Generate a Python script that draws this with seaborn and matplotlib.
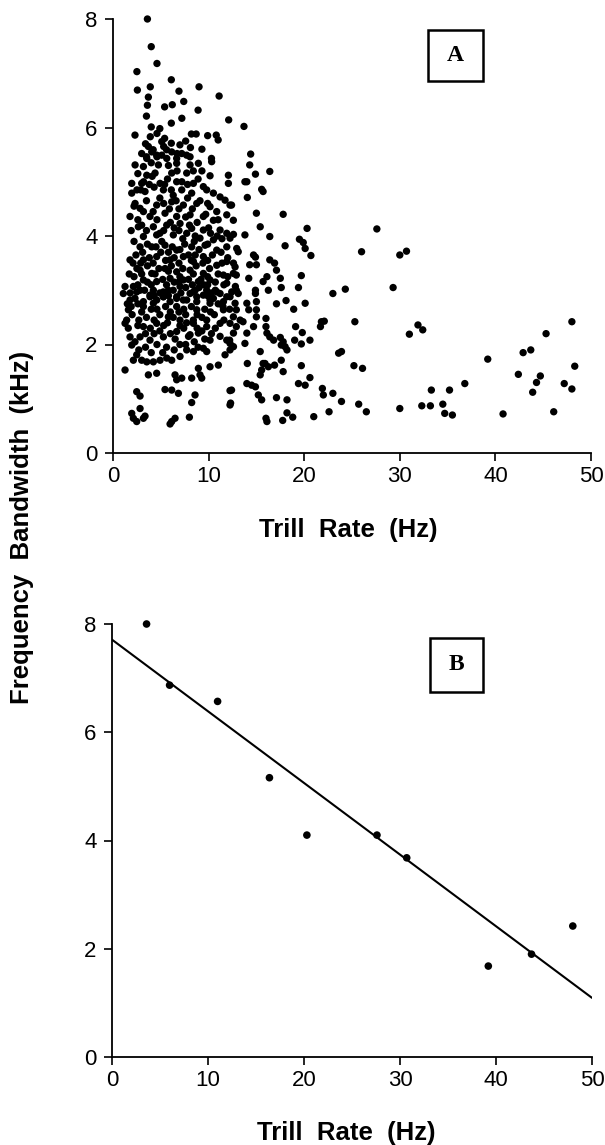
import numpy as np
import pandas as pd
import matplotlib
matplotlib.use("Agg")
import matplotlib.pyplot as plt
from matplotlib.patches import Rectangle
import seaborn as sns

# ---------------- data (Trill rate Hz, Frequency bandwidth kHz) ----------------
# Panel A, read region by region
a_top = [(3.6,8.0),(4.0,7.49),(4.6,7.18),(2.5,7.03),(6.1,6.88),(2.55,6.69),(3.9,6.75),(9.0,6.75),
         (6.9,6.67),(11.1,6.58),(3.7,6.56),(7.4,6.48),(5.4,6.38),(6.2,6.42),(3.6,6.41),(8.9,6.32),
         (7.2,6.17),(3.5,6.21),(12.1,6.14),(6.1,6.08),(4.0,6.01),(4.9,5.98),(2.3,5.86),(3.9,5.83),
         (4.6,5.89),(5.4,5.80),(8.2,5.88),(8.7,5.88),(9.9,5.85),(10.8,5.86),(11.0,5.77),(5.1,5.74),
         (6.1,5.71),(7.0,5.68),(8.1,5.63),(3.7,5.65),(4.2,5.59),(5.6,5.59),(6.7,5.52),(10.3,5.43),
         (3.5,5.46),(4.6,5.46),(7.7,5.49)]
a_mid = [(3.0,5.52),(4.05,5.55),(5.1,5.49),(6.14,5.55),(7.19,5.52),(8.06,5.46),(3.53,5.43),(5.62,5.43),
         (4.57,5.49),(6.66,5.43),(10.32,5.37),(2.31,5.31),(3.18,5.28),(4.75,5.31),(6.66,5.34),(8.06,5.31),
         (8.93,5.34),(12.07,5.12),(12.07,4.97),(10.15,5.11),(3.53,5.12),(4.4,5.16),(6.14,5.16),(7.71,5.16),
         (1.96,4.97),(3.0,4.97),(4.92,4.97),(6.66,5.0),(8.41,4.97),(9.45,4.91),(9.8,4.85),(10.5,4.79),
         (11.2,4.72),(11.72,4.66),(12.24,4.57),(1.96,4.79),(3.35,4.82),(5.27,4.85),(7.19,4.85),(8.23,4.79),
         (2.31,4.6),(2.83,4.51),(3.18,4.45),(4.57,4.57),(6.14,4.63),(7.36,4.57),(8.76,4.6),(10.15,4.54),
         (10.85,4.45),(11.9,4.39),(12.59,4.29),(1.78,4.36),(3.87,4.36),(5.44,4.42),(6.66,4.36),(8.06,4.39),
         (9.45,4.36),(10.5,4.29),(2.65,4.17),(4.22,4.17),(5.62,4.2),(7.01,4.23),(8.23,4.14),(9.45,4.11),
         (11.2,4.11),(11.9,4.05),(3.18,3.99),(4.57,4.02),(6.31,4.02),(7.71,4.05),(9.1,3.96),(10.5,3.93),
         (12.24,3.96),(2.83,3.8),(4.05,3.8),(5.44,3.83),(6.66,3.74),(8.23,3.8),(9.63,3.83),(10.85,3.74),
         (11.9,3.8),(12.94,3.77),(1.78,3.56),(3.18,3.56),(4.57,3.62),(5.97,3.56),(7.36,3.62),(8.41,3.53),
         (9.45,3.62),(10.85,3.46),(11.9,3.53),(12.77,3.43),(2.83,3.37),(4.05,3.31),(5.44,3.4),(6.66,3.34),
         (8.06,3.37),(9.45,3.31),(11.55,3.28),(12.59,3.31),(3.18,3.19),(4.57,3.16),(5.97,3.22),(7.36,3.19),
         (8.93,3.16),(10.15,3.19),(11.9,3.13),(1.26,3.07),(2.13,3.07),(2.83,3.0),(4.22,3.0),(5.79,3.0),
         (7.01,3.07),(8.41,2.97),(9.8,3.0),(11.2,2.94),(12.42,2.97),(3.87,2.88),(5.27,2.88),(6.66,2.85),
         (8.76,2.88),(10.5,2.85),(11.9,2.88)]
# extra marks estimated inside the solid black core of the cloud
a_core = [(3.5,4.65),(4.9,4.7),(6.3,4.75),(7.8,4.7),(9.1,4.65),(2.6,4.3),(4.6,4.3),(6.0,4.25),
          (7.6,4.35),(8.8,4.25),(10.0,4.15),(3.5,4.1),(4.9,4.05),(6.9,4.1),(8.6,4.0),(10.2,4.05),
          (11.4,3.95),(2.2,3.9),(3.6,3.85),(5.1,3.9),(6.2,3.8),(7.5,3.85),(9.0,3.75),(11.3,3.7),
          (2.4,3.65),(3.8,3.6),(5.0,3.7),(6.4,3.6),(7.9,3.65),(9.9,3.55),(10.4,3.65),(2.5,3.4),
          (3.6,3.45),(4.8,3.4),(6.1,3.45),(7.3,3.4),(8.7,3.45),(10.1,3.4),(11.0,3.3),(2.2,3.25),
          (3.6,3.15),(5.2,3.2),(6.4,3.15),(7.9,3.2),(9.5,3.1),(10.7,3.15),(1.8,2.95),(3.3,3.0),
          (4.9,2.95),(6.3,3.0),(7.6,3.05),(9.0,3.05),(10.3,2.95),(2.6,2.75),(4.0,2.65),(5.5,2.7),
          (6.9,2.6),(8.2,2.7),(9.6,2.65),(11.0,2.75),(2.0,2.55),(3.5,2.5),(4.9,2.55),(6.3,2.5),
          (7.6,2.55),(9.3,2.5),(10.6,2.55),(2.6,2.35),(3.9,2.3),(5.3,2.35),(6.0,2.2),(7.4,2.3),
          (8.8,2.3),(10.7,2.3),(2.3,2.05),(3.4,1.95),(4.6,2.0),(5.6,1.95),(7.0,2.0),(8.5,2.05),
          (9.6,2.1),(11.2,2.15),(3.2,5.0),(4.3,4.9),(5.7,5.05),(7.2,5.0),(8.9,5.05),(2.6,5.15),
          (5.8,5.3),(9.3,5.2),(4.0,5.35),(6.1,4.85),(2.2,4.55),(3.4,5.7),(5.3,5.65),(7.6,5.75),
          (9.3,5.6),(1.6,2.3),(1.5,2.75),(1.7,3.3),(1.9,4.1),(2.9,4.85),(5.9,4.5),(8.3,4.5),
          (10.9,4.0),(12.0,3.6),(11.6,3.1),(12.2,2.65),(11.6,2.45),(10.3,2.2),(7.9,2.15),(4.3,2.2)]
a_core2 = [(4.2,4.45),(5.3,4.6),(6.9,4.5),(8.0,4.2),(9.7,4.4),(3.0,4.2),(5.3,4.1),(6.4,4.15),
           (7.3,3.95),(8.5,3.9),(9.9,3.85),(3.1,3.7),(4.5,3.8),(5.8,3.7),(7.0,3.75),(8.6,3.65),
           (9.4,3.5),(2.9,3.5),(4.2,3.5),(5.5,3.55),(6.9,3.5),(8.2,3.55),(9.9,3.25),(3.0,3.3),
           (4.4,3.3),(5.8,3.35),(7.0,3.25),(8.4,3.3),(9.2,3.2),(2.6,3.1),(4.0,3.1),(5.6,3.1),
           (6.9,3.15),(8.3,3.1),(9.9,3.1),(2.3,2.85),(4.3,2.9),(5.8,2.9),(7.1,2.95),(8.6,3.0),
           (9.9,2.9),(3.0,2.6),(4.6,2.65),(6.0,2.6),(7.4,2.65),(8.8,2.55),(10.2,2.6),(2.7,2.45),
           (4.3,2.45),(5.7,2.4),(7.0,2.35),(8.4,2.45),(9.8,2.45),(3.4,2.2),(4.9,2.25),(6.5,2.1),
           (7.7,2.4),(9.3,2.25),(2.7,1.9),(4.0,1.85),(5.2,1.85),(6.4,1.9),(7.6,2.0),(8.9,1.95),
           (3.8,4.95),(5.4,4.95),(6.6,4.65),(7.8,4.95),(2.5,4.85),(4.1,5.1),(6.7,5.2),(8.4,5.2),
           (9.9,4.6),(11.0,4.3),(11.4,3.5),(10.7,3.0),(11.5,2.7),(12.0,3.25),(2.1,3.5),(1.9,2.7)]
a_low = [(1.08,2.94),(2.48,2.97),(3.87,2.91),(5.27,2.97),(6.66,2.88),(8.06,2.94),(9.45,2.91),(10.85,2.97),
         (12.24,2.88),(13.1,2.94),(1.78,2.82),(3.18,2.79),(4.57,2.82),(5.97,2.79),(7.36,2.82),(8.76,2.79),
         (10.15,2.82),(11.55,2.79),(12.77,2.76),(1.61,2.64),(1.43,2.45),(1.26,2.39),(3.18,2.70),(4.22,2.76),
         (5.27,2.88),(6.66,2.70),(7.71,2.82),(8.76,2.64),(10.15,2.76),(11.55,2.64),(12.59,2.51),(3.18,2.33),
         (4.57,2.39),(5.79,2.51),(7.01,2.45),(8.41,2.39),(9.8,2.33),(11.2,2.39),(12.24,2.39),(1.78,2.14),
         (1.96,1.99),(2.83,2.14),(3.87,2.08),(5.27,2.14),(6.66,2.24),(8.06,2.18),(8.93,2.21),(10.15,2.08),
         (11.9,2.08),(12.24,2.02),(2.48,1.81),(3.0,1.71),(2.13,1.71),(3.53,1.68),(4.22,1.68),(4.92,1.71),
         (5.62,1.75),(6.14,1.71),(7.01,1.78),(7.71,1.90),(8.41,1.87),(9.45,1.93),(9.8,1.87),(10.15,1.59),
         (11.02,1.62),(11.72,1.81),(12.24,1.90),(1.26,1.53),(3.7,1.44),(4.57,1.47),(6.49,1.44),(6.66,1.35),
         (7.19,1.38),(8.23,1.38),(8.93,1.56),(9.1,1.44),(9.28,1.38),(2.48,1.13),(2.83,1.05),(5.44,1.17),
         (6.14,1.16),(6.84,1.10),(8.58,1.07),(8.23,0.93),(12.24,1.15),(12.24,0.885),(2.83,0.82),(1.96,0.73),
         (2.13,0.64),(2.48,0.58),(3.18,0.64),(3.35,0.68),(6.14,0.58),(6.49,0.64),(5.97,0.535),(7.99,0.66)]
a_right = [(13.7,6.02),(14.4,5.51),(14.3,5.31),(14.9,5.14),(16.4,5.19),(13.8,5.0),(14.0,5.0),(15.55,4.86),
           (15.7,4.82),(14.05,4.71),(12.4,4.57),(15.0,4.42),(17.8,4.40),(15.4,4.17),(20.3,4.14),(27.6,4.13),
           (12.6,4.03),(13.8,4.02),(16.4,3.99),(19.5,3.94),(19.9,3.88),(20.1,3.77),(20.7,3.64),(18.0,3.82),
           (26.0,3.71),(30.0,3.65),(30.7,3.72),(13.1,3.71),(14.7,3.65),(14.9,3.61),(12.6,3.5),(14.3,3.47),
           (15.0,3.47),(16.4,3.56),(16.9,3.5),(17.1,3.37),(17.5,3.22),(12.9,3.28),(14.2,3.22),(15.7,3.16),
           (16.1,3.25),(19.7,3.27),(12.8,3.07),(12.9,3.0),(14.9,3.0),(14.9,2.94),(16.25,3.0),(17.6,3.05),
           (19.4,3.05),(23.0,2.94),(24.3,3.02),(29.3,3.05),(17.1,2.75),(18.1,2.81),(20.1,2.76),(14.0,2.76),
           (14.2,2.64),(15.0,2.79),(15.0,2.64),(15.0,2.51),(12.9,2.64),(18.9,2.65),(16.0,2.48),(13.3,2.45),
           (13.6,2.42),(12.9,2.33),(12.6,2.21),(14.7,2.33),(14.0,2.21),(21.8,2.42),(22.1,2.43),(21.7,2.33),
           (25.3,2.42),(19.1,2.33),(16.0,2.33),(16.1,2.21),(16.4,2.14),(16.8,2.08),(19.8,2.22),(31.0,2.19),
           (31.9,2.36),(32.4,2.27),(13.8,2.02),(12.2,2.08),(12.6,1.96),(17.5,2.13),(17.6,1.99),(18.0,1.96),
           (18.2,1.9),(17.8,2.05),(19.0,2.08),(19.7,2.01),(20.6,2.08),(15.4,1.87),(14.05,1.65),(15.7,1.65),
           (16.25,1.59),(15.55,1.53),(15.4,1.44),(15.9,1.65),(16.9,1.62),(17.6,1.71),(17.8,1.5),(19.7,1.61),
           (23.6,1.84),(23.9,1.87),(25.2,1.61),(26.1,1.56),(39.2,1.73),(14.0,1.28),(14.5,1.25),(14.9,1.22),
           (19.4,1.28),(20.1,1.25),(20.6,1.39),(21.9,1.19),(22.0,1.07),(23.0,1.10),(15.2,1.07),(15.55,0.98),
           (17.1,1.02),(18.2,0.98),(23.9,0.95),(25.7,0.90),(26.5,0.76),(22.6,0.76),(33.3,1.16),(35.2,1.16),
           (36.8,1.28),(30.0,0.82),(32.3,0.87),(33.2,0.87),(34.5,0.90),(34.7,0.73),(35.5,0.70),(16.0,0.64),
           (16.1,0.58),(17.75,0.60),(18.2,0.74),(18.8,0.66),(21.0,0.67),(12.4,1.16),(12.3,0.92)]
a_far = [(40.8,0.72),(42.4,1.45),(42.9,1.85),(43.7,1.9),(43.9,1.12),(44.3,1.3),(44.7,1.42),(45.3,2.2),
         (46.1,0.76),(47.2,1.28),(48.0,2.42),(48.3,1.6),(48.0,1.18)]

# Panel B: upper-bound points and regression
trill_b = [3.6, 6.0, 11.0, 16.4, 20.3, 27.6, 30.7, 39.2, 43.7, 48.0]
band_b = [8.0, 6.87, 6.57, 5.16, 4.10, 4.10, 3.68, 1.68, 1.90, 2.42]

x_ticks = [0, 10, 20, 30, 40, 50]
y_ticks = [0, 2, 4, 6, 8]

pts_a = a_top + a_mid + a_core + a_core2 + a_low + a_right + a_far
df_a = pd.DataFrame(pts_a, columns=["trill", "band"])
df_b = pd.DataFrame({"trill": trill_b, "band": band_b})

# ---------------- style ----------------
sns.set_theme(style="ticks")
plt.rcParams["font.family"] = ["Liberation Sans", "DejaVu Sans"]
plt.rcParams["axes.linewidth"] = 1.3

W, H = 605, 1145
fig = plt.figure(figsize=(W / 100, H / 100), dpi=100)
fig.patch.set_facecolor("white")


def rect(l, r, t, b):
    return [l / W, 1 - b / H, (r - l) / W, (b - t) / H]


axA = fig.add_axes(rect(113, 591, 19, 453))
axB = fig.add_axes(rect(112, 592, 624, 1057))

for ax in (axA, axB):
    ax.set_xlim(0, 50)
    ax.set_ylim(0, 8)

sns.scatterplot(data=df_a, x="trill", y="band", ax=axA, color="black", s=28,
                edgecolor="none", linewidth=0, clip_on=False, legend=False)

sns.regplot(data=df_b, x="trill", y="band", ax=axB, ci=None, truncate=False,
            scatter_kws=dict(s=30, color="black", edgecolor="none", alpha=1, clip_on=False),
            line_kws=dict(color="black", lw=1.5))

for ax in (axA, axB):
    ax.set_xlim(0, 50)
    ax.set_ylim(0, 8)
    ax.set_xticks(x_ticks)
    ax.set_yticks(y_ticks)
    ax.set_xlabel("")
    ax.set_ylabel("")
    ax.set_facecolor("white")
    sns.despine(ax=ax)
    for sp in ("left", "bottom"):
        ax.spines[sp].set_color("black")
        ax.spines[sp].set_linewidth(1.3)
    ax.tick_params(direction="out", length=6, width=1.2, color="black",
                   labelsize=16, labelcolor="black")
    ax.tick_params(axis="y", pad=5)
    ax.tick_params(axis="x", pad=3)

# axis labels
fig.text(348 / W, 1 - 537 / H, "Trill  Rate  (Hz)", ha="center", va="baseline",
         fontsize=18.5, fontweight="bold", color="black")
fig.text(346 / W, 1 - 1140 / H, "Trill  Rate  (Hz)", ha="center", va="baseline",
         fontsize=18.5, fontweight="bold", color="black")
fig.text(22 / W, 1 - 527 / H, "Frequency  Bandwidth  (kHz)", ha="center", va="center",
         rotation=90, fontsize=18.5, fontweight="bold", color="black")

# panel letters in boxes
for (l, r, t, b, letter) in [(428, 483, 30, 81, "A"), (430, 483, 638, 692, "B")]:
    fig.add_artist(Rectangle((l / W, 1 - b / H), (r - l) / W, (b - t) / H,
                             transform=fig.transFigure, fill=False, lw=1.8, ec="black"))
    fig.text((l + r) / 2 / W, 1 - (t + b) / 2 / H, letter, ha="center", va="center",
             fontsize=17, fontweight="bold", family=["Liberation Serif", "DejaVu Serif"],
             color="black")

fig.savefig("out.png", dpi=100, facecolor="white")
